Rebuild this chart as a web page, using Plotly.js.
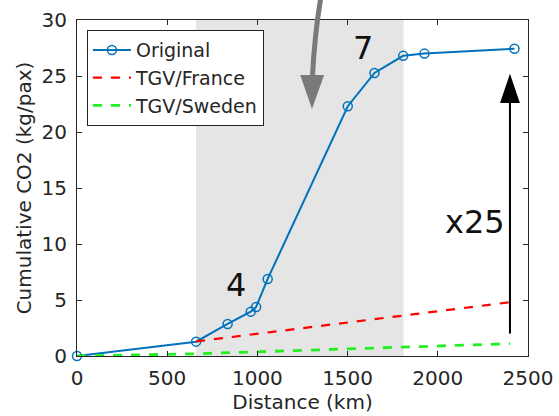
<!DOCTYPE html>
<html><head><meta charset="utf-8">
<script src="https://cdn.plot.ly/plotly-3.0.1.min.js"></script>
<style>body{margin:0;background:#fff}#c{width:559px;height:416px}</style>
</head><body><div id="c"></div>
<script>
var origX = [0, 660, 835, 963, 993, 1057, 1501, 1649, 1808, 1926, 2425];
var origY = [0, 1.28, 2.86, 3.96, 4.38, 6.88, 22.3, 25.27, 26.8, 27.0, 27.44];
var franceX = [660, 2400];
var franceY = [1.3, 4.8];
var swedenX = [0, 660, 2400];
var swedenY = [0, 0.2, 1.1];
var shadeRange = [660, 1810];
var labels = [{t:'4', x:882, y:6.3}, {t:'7', x:1586, y:27.5}, {t:'x25', x:2207, y:12.0}];

var font = 'DejaVu Sans, sans-serif';
var traces = [
  {x: origX, y: origY, name: 'Original', mode: 'lines+markers', cliponaxis:false,
   line: {color: '#0072BD', width: 2}, marker: {symbol: 'circle-open', size: 9, color: '#0072BD', line:{width:1.5}}},
  {x: franceX, y: franceY, name: 'TGV/France', mode: 'lines',
   line: {color: '#ff0000', width: 2.2, dash: '9px,9px'}},
  {x: swedenX, y: swedenY, name: 'TGV/Sweden', mode: 'lines',
   line: {color: '#22ee22', width: 2.8, dash: '9px,9px'}}
];
var anns = labels.map(function(l){return {x:l.x, y:l.y, text:l.t, showarrow:false, font:{family:font, size:32, color:'#111'}};});
var layout = {
  width: 559, height: 416,
  margin: {l: 77, r: 31, t: 20, b: 60},
  paper_bgcolor: '#fff', plot_bgcolor: '#fff',
  font: {family: font, color: '#262626', size: 20},
  showlegend: true,
  legend: {x: 0.022, y: 0.97, xanchor: 'left', yanchor: 'top', bgcolor: '#fff',
    bordercolor: '#222', borderwidth: 1, font: {size: 19, color:'#262626'}, tracegroupgap: 0, itemwidth: 38},
  xaxis: {range: [0, 2500], tickvals: [0, 500, 1000, 1500, 2000, 2500], showgrid: false, zeroline: false,
    showline: true, linecolor: '#262626', linewidth: 1, mirror: 'ticks', ticks: 'inside', ticklen: 5, tickcolor:'#262626',
    ticklabelstandoff: 4,
    title: {text: 'Distance (km)', standoff: 2, font:{size:20}}},
  yaxis: {range: [0, 30], tickvals: [0, 5, 10, 15, 20, 25, 30], showgrid: false, zeroline: false,
    showline: true, linecolor: '#262626', linewidth: 1, mirror: 'ticks', ticks: 'inside', ticklen: 5, tickcolor:'#262626',
    ticklabelstandoff: 5,
    title: {text: 'Cumulative CO2 (kg/pax)', standoff: 4, font:{size:20}}},
  shapes: [
    {type: 'rect', xref: 'x', yref: 'y', x0: shadeRange[0], x1: shadeRange[1], y0: 0, y1: 30, layer: 'below',
     fillcolor: '#e5e5e5', line: {width: 0}},
    {type: 'line', xref: 'x', yref: 'y', x0: 2400, x1: 2400, y0: 2.0, y1: 22.8, line: {color: '#000', width: 2}},
    {type: 'path', xref: 'x', yref: 'y', path: 'M 2345 22.6 L 2455 22.6 L 2400 25.2 Z', fillcolor: '#000', line: {width: 0}},
    {type: 'path', xref: 'paper', yref: 'paper', path: 'M 0.541 1.07 Q 0.527 0.96 0.522 0.83', line: {color: '#7a7a7a', width: 5}},
    {type: 'path', xref: 'paper', yref: 'paper', path: 'M 0.495 0.836 L 0.548 0.836 L 0.521 0.735 Z', fillcolor: '#7a7a7a', line: {width: 0}}
  ],
  annotations: anns
};
Plotly.newPlot('c', traces, layout, {staticPlot: true});
</script></body></html>
